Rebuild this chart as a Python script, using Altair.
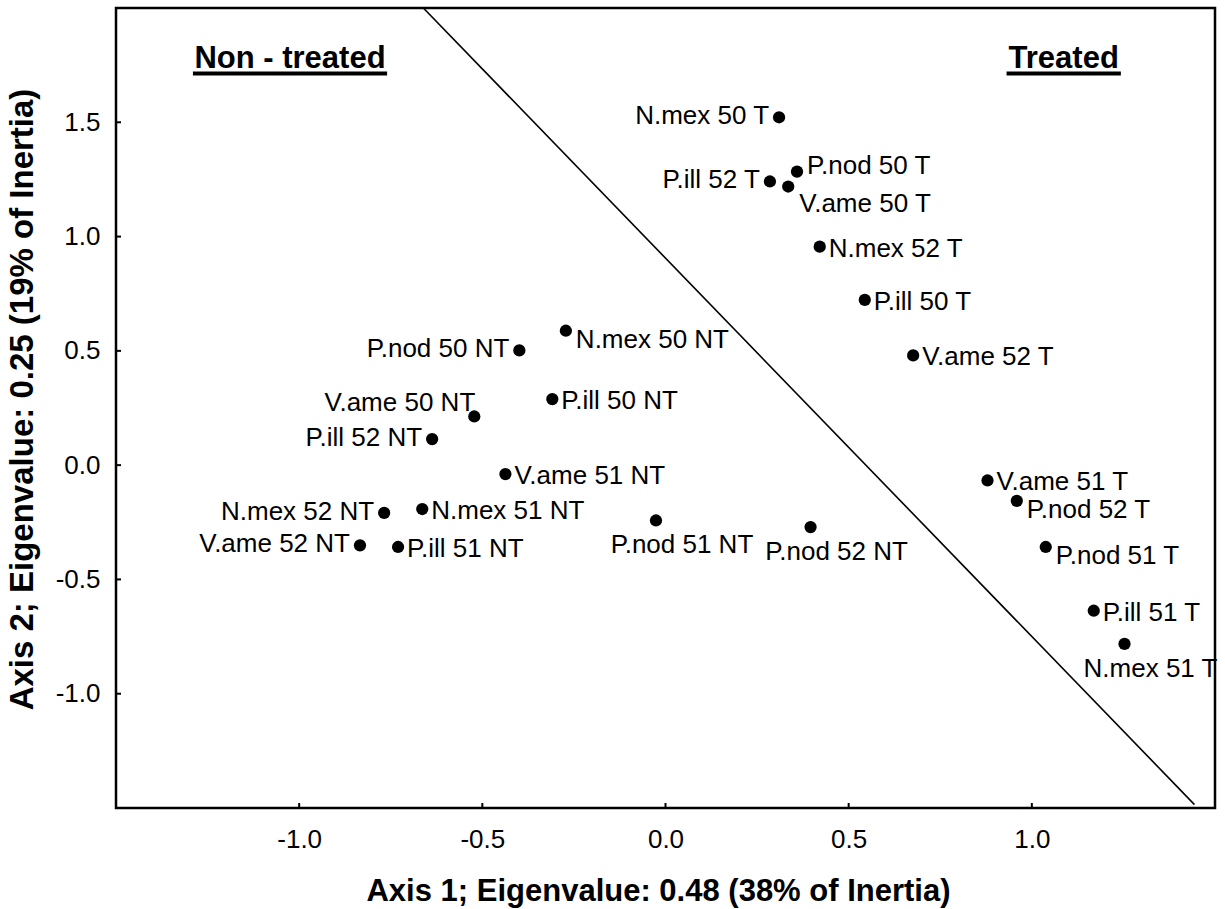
import altair as alt
import pandas as pd

# ---- data ----
labels = [
    "N.mex 50 T", "P.ill 52 T", "P.nod 50 T", "V.ame 50 T", "N.mex 52 T",
    "P.ill 50 T", "V.ame 52 T", "N.mex 50 NT", "P.nod 50 NT", "P.ill 50 NT",
    "V.ame 50 NT", "P.ill 52 NT", "V.ame 51 NT", "N.mex 52 NT", "N.mex 51 NT",
    "V.ame 52 NT", "P.ill 51 NT", "P.nod 51 NT", "P.nod 52 NT", "V.ame 51 T",
    "P.nod 52 T", "P.nod 51 T", "P.ill 51 T", "N.mex 51 T",
]
axis1 = [
    0.310, 0.285, 0.359, 0.335, 0.421,
    0.544, 0.676, -0.272, -0.399, -0.309,
    -0.522, -0.637, -0.437, -0.768, -0.664,
    -0.834, -0.730, -0.026, 0.396, 0.879,
    0.959, 1.038, 1.169, 1.253,
]
axis2 = [
    1.522, 1.241, 1.284, 1.219, 0.956,
    0.723, 0.480, 0.588, 0.502, 0.289,
    0.213, 0.114, -0.039, -0.209, -0.192,
    -0.351, -0.358, -0.242, -0.271, -0.067,
    -0.156, -0.358, -0.637, -0.782,
]
# where each label sits relative to its point
side = [
    "l", "l", "ra", "rbb", "r",
    "r", "r", "rb", "l", "r",
    "la", "l", "r", "l", "r",
    "l", "r", "b", "b", "r",
    "rb", "rb", "r", "b",
]

x_ticks = [-1.0, -0.5, 0.0, 0.5, 1.0]
y_ticks = [-1.0, -0.5, 0.0, 0.5, 1.0, 1.5]

group_names = ["Non - treated", "Treated"]
group_x = [-1.025, 1.087]
group_y = [1.738, 1.738]
underline_x1 = [-1.290, 0.931]
underline_x2 = [-0.760, 1.243]
underline_y = [1.713, 1.713]

divider_x = [-0.661]
divider_y = [2.0]
divider_x2 = [1.444]
divider_y2 = [-1.485]

x_title = "Axis 1; Eigenvalue: 0.48 (38% of Inertia)"
y_title = "Axis 2; Eigenvalue: 0.25 (19% of Inertia)"

# ---- chart ----
FONT = "Liberation Sans"
W, H = 1099, 800

pts = pd.DataFrame({"label": labels, "a1": axis1, "a2": axis2, "side": side})
groups = pd.DataFrame({"name": group_names, "x": group_x, "y": group_y,
                       "x1": underline_x1, "x2": underline_x2, "uy": underline_y})
divider = pd.DataFrame({"x": divider_x, "y": divider_y, "x2": divider_x2, "y2": divider_y2})
xt = pd.DataFrame({"v": x_ticks})
yt = pd.DataFrame({"v": y_ticks})

lab_expr = "replace(format(datum.value, '.1f'), '\u2212', '-')"

xscale = alt.Scale(domain=[-1.5, 1.5], nice=False, zero=False)
yscale = alt.Scale(domain=[-1.5, 2.0], nice=False, zero=False)

xaxis = alt.Axis(values=x_ticks, labelExpr=lab_expr, title=x_title, grid=False,
                 domain=False, ticks=False, tickSize=0, labelPadding=18,
                 labelFont=FONT, labelFontSize=26, labelColor="black",
                 titleFont=FONT, titleFontSize=31, titleFontWeight="bold",
                 titleColor="black", titleBaseline="alphabetic",
                 titleX=542, titleY=92)
yaxis = alt.Axis(values=y_ticks, labelExpr=lab_expr, title=y_title, grid=False,
                 domain=False, ticks=False, tickSize=0, labelPadding=16,
                 labelFont=FONT, labelFontSize=26, labelColor="black",
                 titleFont=FONT, titleFontSize=33, titleFontWeight="bold",
                 titleColor="black", titleBaseline="alphabetic",
                 titleAngle=270, titleX=-84, titleY=391)

X = alt.X("a1:Q", scale=xscale, axis=xaxis)
Y = alt.Y("a2:Q", scale=yscale, axis=yaxis)

points = alt.Chart(pts).mark_circle(size=150, color="black", opacity=1).encode(x=X, y=Y)

placements = {
    "r": dict(align="left", dx=9, dy=10),
    "rb": dict(align="left", dx=10, dy=17),
    "ra": dict(align="left", dx=10, dy=2),
    "rbb": dict(align="left", dx=11, dy=25),
    "l": dict(align="right", dx=-10, dy=7),
    "la": dict(align="right", dx=1, dy=-5),
    "b": dict(align="center", dx=26, dy=33),
}
label_layers = []
for key, p in placements.items():
    label_layers.append(
        alt.Chart(pts).transform_filter(alt.datum.side == key)
        .mark_text(font=FONT, fontSize=26, color="black", baseline="alphabetic", **p)
        .encode(x=alt.X("a1:Q", scale=xscale), y=alt.Y("a2:Q", scale=yscale), text="label:N")
    )

line = alt.Chart(divider).mark_rule(color="black", strokeWidth=1.6).encode(
    x=alt.X("x:Q", scale=xscale), y=alt.Y("y:Q", scale=yscale),
    x2="x2:Q", y2="y2:Q")

heads = alt.Chart(groups).mark_text(font=FONT, fontSize=31, fontWeight="bold", color="black",
                                    baseline="alphabetic", align="center").encode(
    x=alt.X("x:Q", scale=xscale), y=alt.Y("y:Q", scale=yscale), text="name:N")
underl = alt.Chart(groups).mark_rule(color="black", strokeWidth=4).encode(
    x=alt.X("x1:Q", scale=xscale), x2="x2:Q", y=alt.Y("uy:Q", scale=yscale))

xtick = alt.Chart(xt).mark_rule(color="black", strokeWidth=2).encode(
    x=alt.X("v:Q", scale=xscale), y=alt.value(H), y2=alt.value(H - 5))
ytick = alt.Chart(yt).mark_rule(color="black", strokeWidth=2).encode(
    y=alt.Y("v:Q", scale=yscale), x=alt.value(0), x2=alt.value(5))

chart = alt.layer(line, xtick, ytick, points, *label_layers, heads, underl).properties(
    width=W, height=H,
    background="white",
    padding={"left": 116, "top": 8, "right": 10, "bottom": 101},
    autosize=alt.AutoSizeParams(type="none"),
).configure_view(stroke="black", strokeWidth=2.5, strokeOpacity=1)

chart.save("out.html", embed_options={"renderer": "svg", "actions": False})
